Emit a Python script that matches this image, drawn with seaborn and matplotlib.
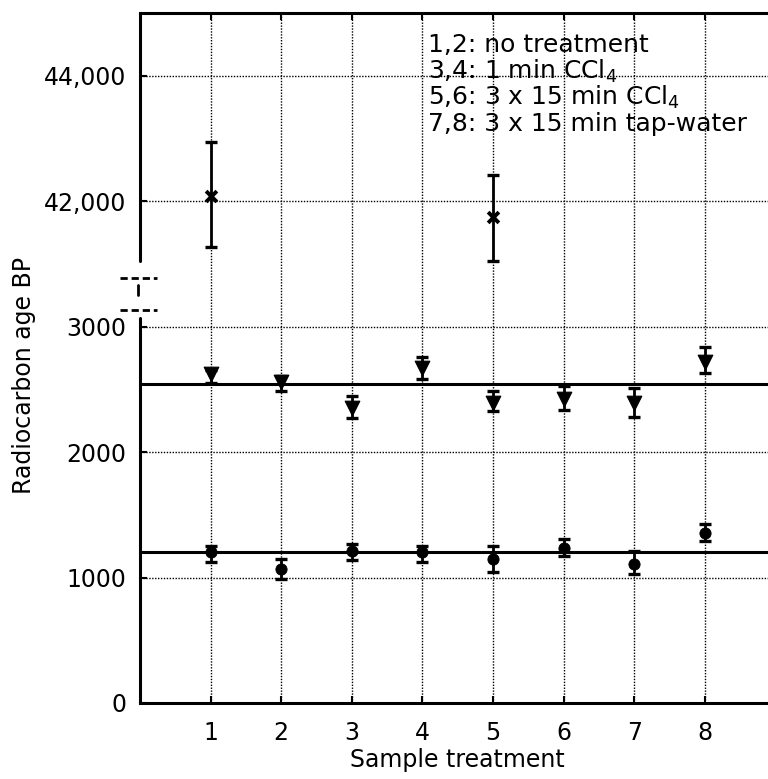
import numpy as np
import pandas as pd
import matplotlib
matplotlib.use("Agg")
import matplotlib.pyplot as plt
import matplotlib.transforms as mtransforms
import seaborn as sns

# ---------------- data ----------------
samples = [1, 2, 3, 4, 5, 6, 7, 8]

cross_samples = [1, 5]
cross_age = [42080, 41750]
cross_lo = [41270, 41050]
cross_hi = [42940, 42410]

tri_age = [2620, 2560, 2350, 2670, 2390, 2420, 2390, 2720]
tri_lo = [2550, 2485, 2270, 2580, 2325, 2335, 2280, 2630]
tri_hi = [2650, 2605, 2445, 2760, 2485, 2525, 2510, 2835]

circ_age = [1200, 1070, 1215, 1200, 1150, 1235, 1110, 1355]
circ_lo = [1120, 990, 1140, 1120, 1045, 1175, 1030, 1290]
circ_hi = [1250, 1150, 1270, 1250, 1250, 1305, 1215, 1425]

ref_lines = [2540, 1200]

ytick_vals = [0, 1000, 2000, 3000, 42000, 44000]
ytick_labels = ["0", "1000", "2000", "3000", "42,000", "44,000"]
legend_lines = ["1,2: no treatment", "3,4: 1 min CCl$_4$",
                "5,6: 3 x 15 min CCl$_4$", "7,8: 3 x 15 min tap-water"]

# ---------------- style ----------------
sns.set_style("ticks")
plt.rcParams["font.family"] = ["DejaVu Sans"]
plt.rcParams["mathtext.fontset"] = "dejavusans"
plt.rcParams["text.color"] = "black"
plt.rcParams["axes.labelcolor"] = "black"
plt.rcParams["xtick.color"] = "black"
plt.rcParams["ytick.color"] = "black"

fig = plt.figure(figsize=(7.68, 7.79), dpi=100)
ax = fig.add_axes([0.1823, 0.0976, 0.8273, 0.8858])


# broken y axis: 0-3500 linear, 41000-45000 compressed by 2
def fwd(v):
    v = np.asarray(v, dtype=float)
    return np.where(v <= 3500, v, np.where(v >= 41000, 3000 + (v - 40000) / 2.0, 3500))


def inv(y):
    y = np.asarray(y, dtype=float)
    return np.where(y <= 3500, y, 40000 + 2.0 * (y - 3000))


ax.set_yscale("function", functions=(fwd, inv))

df_c = pd.DataFrame({"sample": cross_samples, "age": cross_age})
df_t = pd.DataFrame({"sample": samples, "age": tri_age})
df_o = pd.DataFrame({"sample": samples, "age": circ_age})

for v in ref_lines:
    ax.axhline(v, color="black", lw=2.2, zorder=3)

ekw = dict(fmt="none", ecolor="black", elinewidth=2, capsize=4.5, capthick=2.4, zorder=4)
ax.errorbar(cross_samples, cross_age,
            yerr=[np.array(cross_age) - np.array(cross_lo), np.array(cross_hi) - np.array(cross_age)], **ekw)
ax.errorbar(samples, tri_age,
            yerr=[np.array(tri_age) - np.array(tri_lo), np.array(tri_hi) - np.array(tri_age)], **ekw)
ax.errorbar(samples, circ_age,
            yerr=[np.array(circ_age) - np.array(circ_lo), np.array(circ_hi) - np.array(circ_age)], **ekw)

sns.scatterplot(data=df_c, x="sample", y="age", marker="x", color="black",
                s=60, linewidth=2.8, legend=False, ax=ax, zorder=5)
sns.scatterplot(data=df_t, x="sample", y="age", marker="v", color="black",
                s=110, edgecolor="black", legend=False, ax=ax, zorder=5)
sns.scatterplot(data=df_o, x="sample", y="age", marker="o", color="black",
                s=65, edgecolor="black", legend=False, ax=ax, zorder=5)

ax.set_xlim(0, 9)
ax.set_ylim(0, 45000)
ax.set_xticks(samples)
ax.set_xticklabels([str(s) for s in samples])
ax.set_yticks(ytick_vals)
ax.set_yticklabels(ytick_labels)

ax.grid(True, color="black", linestyle=(0, (1, 1.1)), linewidth=1.0)
ax.set_axisbelow(True)

ax.tick_params(axis="x", direction="in", length=5, width=1.5, top=True,
               labelsize=17, pad=13)
ax.tick_params(axis="y", direction="in", length=5, width=1.5,
               labelsize=17, pad=10)

for side in ["top", "bottom"]:
    ax.spines[side].set_linewidth(2.2)
    ax.spines[side].set_color("black")
ax.spines["right"].set_visible(False)
ax.spines["left"].set_visible(False)

# left spine drawn in two pieces with break marks
trans = mtransforms.blended_transform_factory(ax.transAxes, ax.transData)
ax.plot([0, 0], [0, 3070], color="black", lw=2.2, transform=trans, clip_on=False, zorder=6)
ax.plot([0, 0], [41040, 45000], color="black", lw=2.2, transform=trans, clip_on=False, zorder=6)
for yb in [3390, 3130]:
    ax.plot([-0.032, 0.027], [yb, yb], color="black", lw=2, linestyle=(0, (2.6, 1.4)),
            transform=trans, clip_on=False, zorder=6)
ax.plot([-0.003, -0.003], [3250, 3330], color="black", lw=2, transform=trans,
        clip_on=False, zorder=6)

ax.set_xlabel("Sample treatment", fontsize=17, labelpad=2)
ax.set_ylabel("Radiocarbon age BP", fontsize=17)
ax.yaxis.set_label_coords(-0.163, 0.475)

# treatment key
for line, yy in zip(legend_lines, [0.954, 0.915, 0.877, 0.839]):
    ax.text(0.4535, yy, line, transform=ax.transAxes, fontsize=18,
            ha="left", va="center", color="black", zorder=7)

fig.savefig("out.png", dpi=100)
